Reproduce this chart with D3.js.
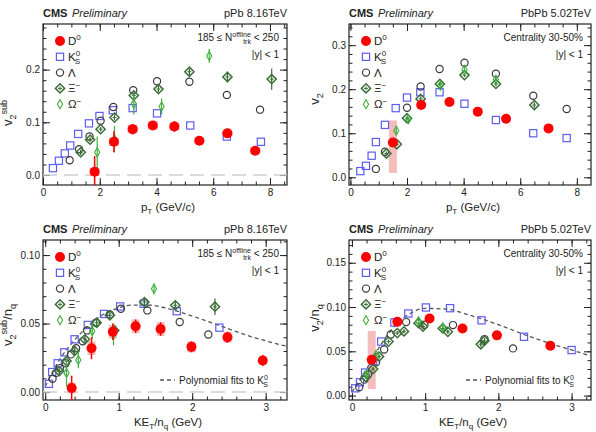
<!DOCTYPE html>
<html>
<head>
<meta charset="utf-8">
<script src="https://cdn.jsdelivr.net/npm/d3@7"></script>
<style>
  body { margin: 0; background: #fff; }
  svg text { font-family: "Liberation Sans", Arial, Helvetica, sans-serif; fill: #222; }
</style>
</head>
<body>
<div id="chart"></div>
<script>
// ---------- data ----------
// D0 rows: [x, v, stat, systDown, systUp]; others: [x, v, stat]

// pPb 8.16 TeV, v2sub vs pT
const ppbPtD0  = [[1.82,0.006,0.030,0.008,0.008],[2.50,0.063,0.020,0.008,0.008],[3.16,0.087,0.010,0.008,0.008],[3.87,0.094,0.008,0.008,0.008],[4.63,0.092,0.010,0.008,0.008],[5.51,0.065,0.006,0.006,0.006],[6.50,0.079,0.008,0.006,0.006],[7.48,0.046,0.006,0.006,0.006]];
const ppbPtK0s = [[0.35,0.013],[0.56,0.027],[0.77,0.041],[0.96,0.056],[1.24,0.078],[1.62,0.098],[1.99,0.112],[2.46,0.123],[3.16,0.127],[4.02,0.117],[5.19,0.094],[6.48,0.073],[7.68,0.063]];
const ppbPtLam = [[0.94,0.028],[1.27,0.049],[1.64,0.073],[2.03,0.103],[2.48,0.129],[3.18,0.161],[4.02,0.178],[5.16,0.177],[6.48,0.152],[7.65,0.124]];
const ppbPtXi  = [[1.33,0.043,0.005],[1.66,0.067,0.004],[2.03,0.087,0.004],[2.52,0.109,0.005],[3.20,0.151,0.006],[4.07,0.163,0.006],[5.16,0.196,0.006],[6.50,0.186,0.010],[8.06,0.182,0.020]];
const ppbPtOm  = [[1.91,0.043,0.030],[2.52,0.068,0.025],[3.20,0.135,0.020],[4.18,0.130,0.015],[5.86,0.226,0.013]];

// PbPb 5.02 TeV, v2 vs pT
const pbpbPtD0  = [[1.50,0.079,0.005,0.069,0.050],[2.50,0.164,0.005,0.008,0.008],[3.50,0.171,0.005,0.008,0.008],[4.50,0.149,0.005,0.007,0.007],[5.50,0.133,0.006,0.007,0.007],[7.00,0.111,0.006,0.006,0.006]];
const pbpbPtK0s = [[0.35,0.014],[0.55,0.026],[0.75,0.049],[0.90,0.080],[1.22,0.119],[1.60,0.157],[2.00,0.181],[2.47,0.193],[3.15,0.193],[4.03,0.167],[5.14,0.130],[6.46,0.100],[7.64,0.089]];
const pbpbPtLam = [[0.90,0.019],[1.22,0.058],[2.00,0.158],[2.48,0.206],[3.15,0.246],[4.03,0.260],[5.14,0.235],[6.46,0.185],[7.64,0.155]];
const pbpbPtXi  = [[1.27,0.054,0.003],[1.64,0.075,0.003],[2.00,0.134,0.003],[2.48,0.178,0.004],[3.16,0.212,0.004],[4.03,0.232,0.004],[5.14,0.212,0.005],[6.50,0.164,0.006]];
const pbpbPtOm  = [[1.62,0.106,0.006],[2.05,0.132,0.005],[3.18,0.208,0.006],[4.03,0.244,0.006],[5.14,0.222,0.007]];

// pPb 8.16 TeV, v2sub/nq vs KET/nq
const ppbKeD0  = [[0.36,0.003,0.009,0.004,0.004],[0.63,0.032,0.008,0.005,0.005],[0.92,0.044,0.006,0.005,0.005],[1.23,0.048,0.005,0.005,0.005],[1.57,0.046,0.005,0.005,0.005],[1.99,0.033,0.004,0.004,0.004],[2.48,0.040,0.004,0.004,0.004],[2.96,0.023,0.004,0.003,0.003]];
const ppbKeK0s = [[0.05,0.006],[0.095,0.0146],[0.17,0.021],[0.26,0.029],[0.40,0.0385],[0.58,0.049],[0.80,0.057],[1.02,0.0625],[1.34,0.0645],[1.79,0.059],[2.37,0.047]];
const ppbKeLam = [[0.10,0.0097],[0.15,0.014],[0.20,0.0175],[0.28,0.021],[0.35,0.0275],[0.42,0.032],[0.51,0.037],[0.57,0.045],[0.69,0.0506],[0.88,0.0567],[1.03,0.0608],[1.39,0.0596],[1.83,0.0511],[2.22,0.042]];
const ppbKeXi  = [[0.19,0.0153,0.002],[0.29,0.0226,0.002],[0.40,0.030,0.003],[0.54,0.0385,0.003],[0.70,0.0506,0.003],[0.88,0.056,0.003],[0.94,0.045,0.004],[1.35,0.0657,0.003],[1.77,0.0633,0.003],[2.31,0.0623,0.006]];
const ppbKeOm  = [[0.29,0.014,0.010],[0.45,0.0234,0.006],[0.64,0.0445,0.006],[0.93,0.042,0.008],[1.48,0.0754,0.004]];
const ppbKeFit = [[0,0.004],[0.2,0.024],[0.4,0.038],[0.6,0.049],[0.8,0.057],[1.0,0.0615],[1.2,0.0635],[1.4,0.0635],[1.7,0.0605],[2.0,0.0555],[2.4,0.048],[2.8,0.0405],[3.28,0.0335]];

// PbPb 5.02 TeV, v2/nq vs KET/nq
const pbpbKeD0  = [[0.27,0.0405,0.003,0.033,0.0325],[0.62,0.0833,0.003,0.004,0.004],[1.06,0.087,0.003,0.004,0.004],[1.51,0.0758,0.003,0.003,0.003],[1.98,0.068,0.003,0.003,0.003],[2.71,0.0563,0.003,0.003,0.003]];
const pbpbKeK0s = [[0.045,0.0082],[0.11,0.015],[0.18,0.026],[0.29,0.039],[0.40,0.061],[0.58,0.0826],[0.77,0.0927],[1.01,0.0995],[1.34,0.0987],[1.77,0.085],[2.35,0.0664],[3.0,0.0514]];
const pbpbKeLam = [[0.10,0.0094],[0.17,0.018],[0.22,0.024],[0.33,0.0375],[0.44,0.052],[0.53,0.069],[0.74,0.083],[0.99,0.080],[1.38,0.0796],[1.81,0.0638],[2.20,0.0533]];
const pbpbKeXi  = [[0.19,0.021,0.002],[0.29,0.030,0.002],[0.37,0.044,0.002],[0.50,0.061,0.002],[0.62,0.0706,0.002],[0.71,0.0725,0.002],[0.91,0.0818,0.002],[0.97,0.078,0.002],[1.24,0.0758,0.002],[1.31,0.072,0.002],[1.76,0.058,0.003],[1.81,0.062,0.003]];
const pbpbKeOm  = [[0.20,0.024,0.003],[0.33,0.046,0.003],[0.91,0.084,0.003],[1.24,0.077,0.003]];
const pbpbKeFit = [[0,0.004],[0.2,0.030],[0.4,0.058],[0.6,0.080],[0.8,0.093],[1.0,0.0985],[1.3,0.0975],[1.6,0.091],[2.0,0.080],[2.4,0.0675],[2.8,0.0565],[3.0,0.0515],[3.27,0.0445]];

// tick values
const ptMajor = [0, 2, 4, 6, 8];
const keMajor = [0, 1, 2, 3];
const ppbPtYTicks = [0, 0.1, 0.2];
const pbpbPtYTicks = [0, 0.1, 0.2, 0.3];
const ppbKeYTicks = [0, 0.05, 0.10];
const pbpbKeYTicks = [0, 0.05, 0.10, 0.15];

// ---------- drawing ----------
const W = 596, H = 432;
const svg = d3.select("#chart").append("svg").attr("width", W).attr("height", H);

const colD0 = "#ff0000", colK0 = "#5c5cf2", colLam = "#3a3a3a", colXi = "#3d6e38", colOm = "#3fae3f";

// rich text: parts = [text, "_sub", "^sup"] ; stacked sup/sub via "&"
function rich(sel, parts, fs) {
  let cur = 0;
  parts.forEach(p => {
    let kind = "n", t = p;
    if (p[0] === "_") { kind = "sub"; t = p.slice(1); }
    if (p[0] === "^") { kind = "sup"; t = p.slice(1); }
    if (p[0] === "&") { kind = "back"; t = p.slice(1); }
    const sp = sel.append("tspan").text(t);
    let target = 0;
    if (kind === "sub") { target = fs * 0.3; sp.attr("font-size", fs * 0.7); }
    if (kind === "sup") { target = -fs * 0.4; sp.attr("font-size", fs * 0.7); }
    if (kind === "back") { target = fs * 0.3; sp.attr("font-size", fs * 0.7); sp.attr("dx", -(sp.node().getComputedTextLength())); }
    sp.attr("dy", target - cur);
    cur = target;
  });
}

function marker(g, kind, cx, cy) {
  if (kind === "D0") {
    g.append("circle").attr("cx", cx).attr("cy", cy).attr("r", 5).attr("fill", colD0);
  } else if (kind === "K0s") {
    g.append("rect").attr("x", cx - 3.6).attr("y", cy - 3.6).attr("width", 7.2).attr("height", 7.2)
      .attr("fill", "none").attr("stroke", colK0).attr("stroke-width", 1.2);
  } else if (kind === "Lam") {
    g.append("circle").attr("cx", cx).attr("cy", cy).attr("r", 3.6)
      .attr("fill", "none").attr("stroke", colLam).attr("stroke-width", 1.2);
  } else if (kind === "Xi") {
    const s = 4.6;
    g.append("path").attr("d", `M${cx},${cy - s}L${cx + s},${cy}L${cx},${cy + s}L${cx - s},${cy}Z`)
      .attr("fill", "none").attr("stroke", colXi).attr("stroke-width", 1.5);
    g.append("path").attr("d", `M${cx - 2},${cy}H${cx + 2}M${cx},${cy - 2}V${cy + 2}`)
      .attr("stroke", colXi).attr("stroke-width", 1);
  } else if (kind === "Om") {
    g.append("path").attr("d", `M${cx},${cy - 4.5}L${cx + 2.6},${cy}L${cx},${cy + 4.5}L${cx - 2.6},${cy}Z`)
      .attr("fill", "none").attr("stroke", colOm).attr("stroke-width", 1.1);
  }
}

const errCol = { K0s: colK0, Lam: colLam, Xi: colXi, Om: colOm, D0: colD0 };

function drawPanel(p) {
  const g = svg.append("g");
  const x = d3.scaleLinear().domain(p.xDomain).range([p.left, p.right]);
  const y = d3.scaleLinear().domain(p.yDomain).range([p.bottom, p.top]);

  const clipId = "clip" + p.id;
  svg.append("clipPath").attr("id", clipId).append("rect")
    .attr("x", p.left).attr("y", p.top).attr("width", p.right - p.left).attr("height", p.bottom - p.top);

  // axes (ROOT style, ticks inside on all sides)
  const fmtY = d3.format(p.yFmt);
  const axes = [
    [d3.axisBottom(x).tickValues(p.xMajor).tickSize(-7).tickPadding(4).tickFormat(d3.format("d")), `translate(0,${p.bottom})`, true],
    [d3.axisBottom(x).tickValues(d3.range(p.xDomain[0] < 0 ? 0 : p.xDomain[0], p.xDomain[1], p.xMinor)).tickSize(-3.5).tickFormat(""), `translate(0,${p.bottom})`, false],
    [d3.axisTop(x).tickValues(p.xMajor).tickSize(-7).tickFormat(""), `translate(0,${p.top})`, false],
    [d3.axisTop(x).tickValues(d3.range(0, p.xDomain[1], p.xMinor)).tickSize(-3.5).tickFormat(""), `translate(0,${p.top})`, false],
    [d3.axisLeft(y).tickValues(p.yMajor).tickSize(-7).tickPadding(3).tickFormat(fmtY), `translate(${p.left},0)`, true],
    [d3.axisLeft(y).tickValues(d3.range(0, p.yDomain[1], p.yMinor)).tickSize(-3.5).tickFormat(""), `translate(${p.left},0)`, false],
    [d3.axisRight(y).tickValues(p.yMajor).tickSize(-7).tickFormat(""), `translate(${p.right},0)`, false],
    [d3.axisRight(y).tickValues(d3.range(0, p.yDomain[1], p.yMinor)).tickSize(-3.5).tickFormat(""), `translate(${p.right},0)`, false]
  ];
  axes.forEach(([ax, tr]) => {
    const a = g.append("g").attr("transform", tr).call(ax);
    a.select(".domain").remove();
    a.selectAll("line").attr("stroke", "#222");
    a.selectAll("text").attr("font-size", 10).attr("fill", "#333")
      .style("font-family", '"Liberation Sans", Arial, sans-serif');
  });
  g.append("rect").attr("x", p.left).attr("y", p.top)
    .attr("width", p.right - p.left).attr("height", p.bottom - p.top)
    .attr("fill", "none").attr("stroke", "#222").attr("stroke-width", 1.2);

  const plot = g.append("g").attr("clip-path", `url(#${clipId})`);

  if (p.zeroLine) {
    plot.append("line").attr("x1", p.left).attr("x2", p.right)
      .attr("y1", y(0)).attr("y2", y(0))
      .attr("stroke", "#d0d0d0").attr("stroke-width", 1.5).attr("stroke-dasharray", "14,7");
  }

  // D0 systematic boxes
  plot.selectAll(".sys").data(p.D0).enter().append("rect")
    .attr("x", d => x(d[0]) - p.boxW).attr("width", p.boxW * 2)
    .attr("y", d => y(d[1] + d[4])).attr("height", d => y(d[1] - d[3]) - y(d[1] + d[4]))
    .attr("fill", "#ef8f8f").attr("opacity", 0.6);

  if (p.fit) {
    plot.append("path").datum(p.fit)
      .attr("d", d3.line().x(d => x(d[0])).y(d => y(d[1])).curve(d3.curveMonotoneX))
      .attr("fill", "none").attr("stroke", "#555").attr("stroke-width", 1.3).attr("stroke-dasharray", "4,3");
  }

  const series = [["K0s", p.K0s], ["Lam", p.Lam], ["Xi", p.Xi], ["Om", p.Om], ["D0", p.D0]];
  series.forEach(([kind, rows]) => {
    rows.forEach(d => {
      if (d[2]) {
        plot.append("line").attr("x1", x(d[0])).attr("x2", x(d[0]))
          .attr("y1", y(d[1] - d[2])).attr("y2", y(d[1] + d[2]))
          .attr("stroke", errCol[kind]).attr("stroke-width", kind === "D0" ? 1.5 : 1.2);
      }
      marker(plot, kind, x(d[0]), y(d[1]));
    });
  });

  // header
  const hy = p.top - 7;
  g.append("text").attr("x", p.left).attr("y", hy).attr("font-size", 11).attr("font-weight", "bold").text("CMS");
  g.append("text").attr("x", p.left + 29).attr("y", hy).attr("font-size", 11).attr("font-style", "italic").attr("fill", "#444").text("Preliminary");
  g.append("text").attr("x", p.right).attr("y", hy).attr("font-size", 11).attr("text-anchor", "end").text(p.system);

  // top-right labels
  const t1 = g.append("text").attr("x", p.right - 8).attr("y", p.top + 17).attr("font-size", 10).attr("text-anchor", "end");
  rich(t1, p.label1, 10);
  g.append("text").attr("x", p.right - 8).attr("y", p.top + 34).attr("font-size", 10).attr("text-anchor", "end").text("|y| < 1");

  // legend
  const legNames = [["D0", ["D", "^0"]], ["K0s", ["K", "^0", "&S"]], ["Lam", ["Λ"]], ["Xi", ["Ξ", "^−"]], ["Om", ["Ω", "^−"]]];
  legNames.forEach(([kind, parts], i) => {
    const ly = p.top + 17 + i * 15.8;
    marker(g, kind, p.left + 17, ly);
    const t = g.append("text").attr("x", p.left + 25).attr("y", ly + 4).attr("font-size", 11.5);
    rich(t, parts, 11.5);
  });

  if (p.fit) {
    const fy = p.bottom - 20;
    g.append("line").attr("x1", p.fitLegX).attr("x2", p.fitLegX + 15).attr("y1", fy).attr("y2", fy)
      .attr("stroke", "#555").attr("stroke-width", 1.3).attr("stroke-dasharray", "4,3");
    const t = g.append("text").attr("x", p.fitLegX + 19).attr("y", fy + 3.5).attr("font-size", 10);
    rich(t, ["Polynomial fits to K", "^0", "&S"], 10);
  }

  // axis titles
  const xt = g.append("text").attr("x", (p.left + p.right) / 2 + 3).attr("y", p.bottom + 26)
    .attr("font-size", 11.5).attr("text-anchor", "middle");
  rich(xt, p.xTitle, 11.5);
  const yt = g.append("text").attr("transform", `translate(${p.yTitleX},${p.yTitleY}) rotate(-90)`)
    .attr("font-size", 13).attr("text-anchor", "middle");
  rich(yt, p.yTitle, 13);
}

drawPanel({
  id: 1, left: 43, right: 287, top: 24, bottom: 185,
  xDomain: [0, 8.6], yDomain: [-0.0190, 0.2866],
  xMajor: ptMajor, xMinor: 0.5, yMajor: ppbPtYTicks, yMinor: 0.02, yFmt: ".1f",
  D0: ppbPtD0, K0s: ppbPtK0s, Lam: ppbPtLam, Xi: ppbPtXi, Om: ppbPtOm, boxW: 5,
  zeroLine: true, system: "pPb 8.16TeV",
  label1: ["185 ≤ N", "^offline", "&trk", " < 250"],
  xTitle: ["p", "_T", " (GeV/c)"], yTitle: ["v", "_2", "^sub"], yTitleX: 12, yTitleY: 113
});
drawPanel({
  id: 2, left: 349, right: 591, top: 24, bottom: 185,
  xDomain: [-0.05, 8.5], yDomain: [-0.0175, 0.348],
  xMajor: ptMajor, xMinor: 0.5, yMajor: pbpbPtYTicks, yMinor: 0.02, yFmt: ".1f",
  D0: pbpbPtD0, K0s: pbpbPtK0s, Lam: pbpbPtLam, Xi: pbpbPtXi, Om: pbpbPtOm, boxW: 4,
  zeroLine: false, system: "PbPb 5.02TeV",
  label1: ["Centrality 30-50%"],
  xTitle: ["p", "_T", " (GeV/c)"], yTitle: ["v", "_2"], yTitleX: 319, yTitleY: 99
});
drawPanel({
  id: 3, left: 43, right: 287, top: 240, bottom: 400,
  xDomain: [-0.03, 3.29], yDomain: [-0.0058, 0.111],
  xMajor: keMajor, xMinor: 0.2, yMajor: ppbKeYTicks, yMinor: 0.01, yFmt: ".2f",
  D0: ppbKeD0, K0s: ppbKeK0s, Lam: ppbKeLam, Xi: ppbKeXi, Om: ppbKeOm, boxW: 4,
  zeroLine: true, fit: ppbKeFit, fitLegX: 160, system: "pPb 8.16TeV",
  label1: ["185 ≤ N", "^offline", "&trk", " < 250"],
  xTitle: ["KE", "_T", "/n", "_q", " (GeV)"], yTitle: ["v", "_2", "^sub", "/n", "_q"], yTitleX: 12, yTitleY: 325
});
drawPanel({
  id: 4, left: 349, right: 591, top: 240, bottom: 400,
  xDomain: [-0.04, 3.265], yDomain: [-0.0050, 0.1757],
  xMajor: keMajor, xMinor: 0.2, yMajor: pbpbKeYTicks, yMinor: 0.01, yFmt: ".2f",
  D0: pbpbKeD0, K0s: pbpbKeK0s, Lam: pbpbKeLam, Xi: pbpbKeXi, Om: pbpbKeOm, boxW: 4,
  zeroLine: false, fit: pbpbKeFit, fitLegX: 466, system: "PbPb 5.02TeV",
  label1: ["Centrality 30-50%"],
  xTitle: ["KE", "_T", "/n", "_q", " (GeV)"], yTitle: ["v", "_2", "/n", "_q"], yTitleX: 319, yTitleY: 318
});
</script>
</body>
</html>
